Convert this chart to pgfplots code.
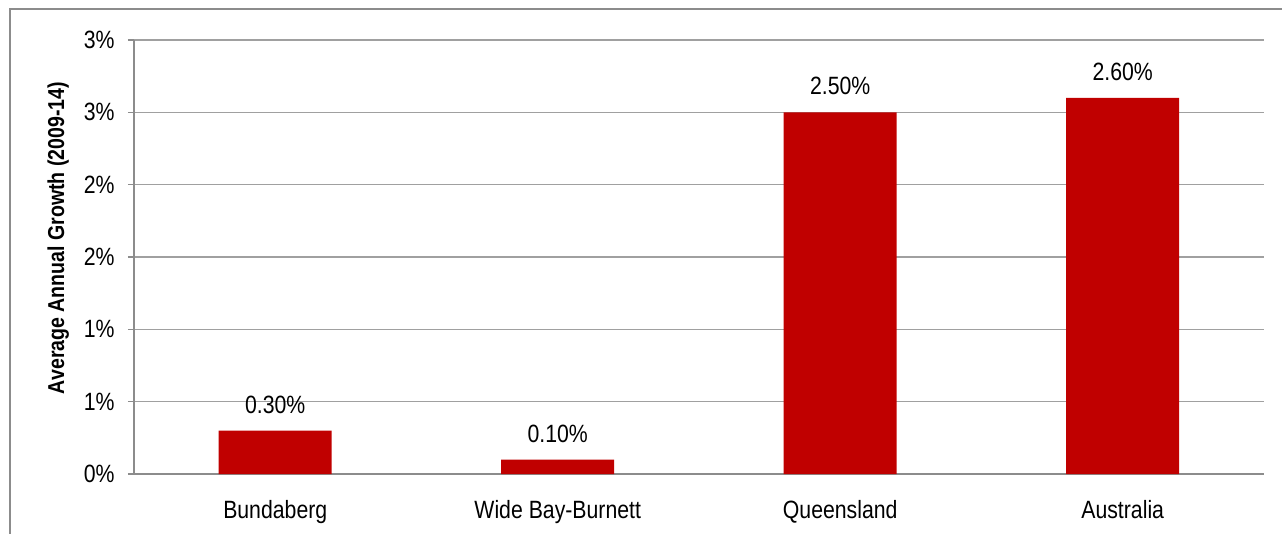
\documentclass[border=0pt]{standalone}
\usepackage{fontspec}
\setmainfont[FakeStretch=0.85]{Liberation Sans}
\usepackage{pgfplots}
\pgfplotsset{compat=1.18}
\definecolor{barred}{HTML}{C00000}
\definecolor{gridgray}{HTML}{A0A0A0}
\definecolor{axisgray}{HTML}{8C8C8C}
\begin{document}
\begin{tikzpicture}
% page size and outer chart frame
\path[use as bounding box] (-134pt,-59pt) rectangle (1148pt,474pt);
\draw[axisgray, line width=1.2pt] (-124pt,-70pt) -- (-124pt,465pt) -- (1160pt,465pt);
\begin{axis}[
  at={(0pt,0pt)}, anchor=south west,
  scale only axis,
  width=1130pt, height=434pt,
  font=\fontsize{25}{29}\selectfont,
  /pgf/number format/assume math mode=true,
  xmin=-0.5, xmax=3.5,
  ymin=0, ymax=3,
  axis lines*=left,
  axis line style={axisgray, line width=1.2pt, -},
  tick align=outside,
  major tick length=6pt,
  tick style={axisgray, line width=1.2pt},
  xtick={0,1,2,3},
  xticklabels={Bundaberg, Wide Bay-Burnett, Queensland, Australia},
  x tick style={draw=none},
  extra x ticks={-0.5,0.5,1.5,2.5,3.5},
  extra x tick labels={},
  extra x tick style={major tick length=7pt, tick style={axisgray, line width=1.2pt}, grid=none},
  xticklabel style={yshift=-17pt},
  ytick={0,0.5,1,1.5,2,2.5,3},
  yticklabels={0\%,1\%,1\%,2\%,2\%,3\%,3\%},
  yticklabel style={xshift=-10pt},
  ymajorgrids,
  grid style={gridgray, line width=1.2pt},
  ylabel={\fontsize{23}{27}\selectfont\bfseries Average Annual Growth (2009-14)},
  ylabel style={yshift=8pt, xshift=19pt},
  ybar, bar width=0.4,
  nodes near coords={\pgfmathprintnumber[fixed,fixed zerofill,precision=2]{\pgfplotspointmeta}\%},
  every node near coord/.append style={anchor=south, inner sep=0pt, yshift=17pt, black},
]
\addplot[fill=barred, draw=none] coordinates {(0,0.30) (1,0.10) (2,2.50) (3,2.60)};
\end{axis}
\end{tikzpicture}
\end{document}
